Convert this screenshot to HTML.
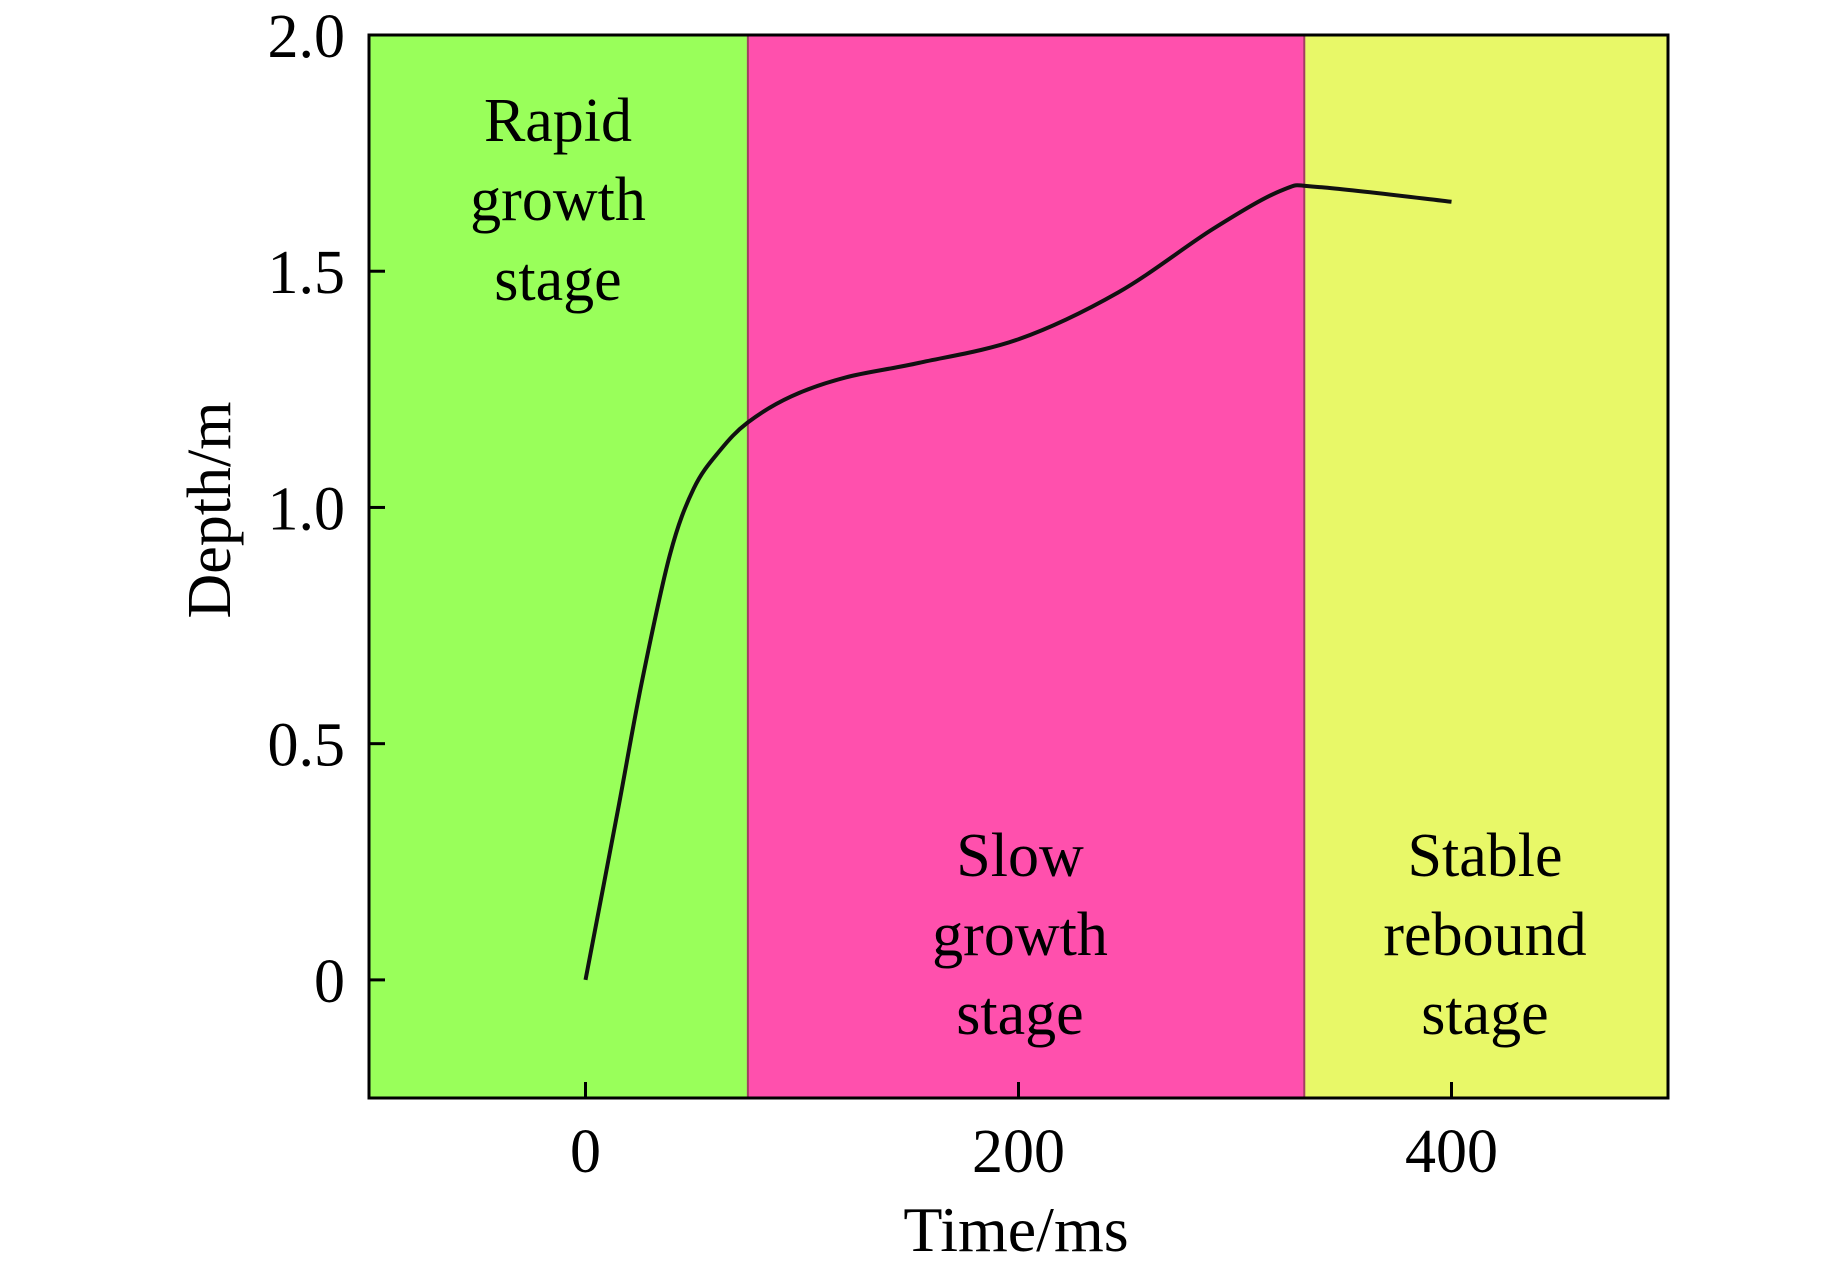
<!DOCTYPE html>
<html><head><meta charset="utf-8"><style>
html,body{margin:0;padding:0;background:#fff;}
svg text{font-family:"Liberation Serif",serif;fill:#000;}
</style></head><body>
<svg id="chart" width="1843" height="1270" viewBox="0 0 1843 1270" xmlns="http://www.w3.org/2000/svg">
<g id="regions"></g>
<g id="labels"></g>
<path id="curve" fill="none" stroke="#111" stroke-width="4"/>
<rect x="369" y="35" width="1299" height="1063" fill="none" stroke="#000" stroke-width="3"/>
<g id="axes"></g>
<text x="1016" y="1251" font-size="64" text-anchor="middle">Time/ms</text>
<text transform="translate(230,510) rotate(-90)" font-size="62" text-anchor="middle">Depth/m</text>
</svg>
<script>
const times=[0,15,26,39,50,62,75,95,120,154,200,246,290,322,339,400];
const depths=[0,0.36,0.63,0.9,1.04,1.12,1.18,1.235,1.275,1.306,1.356,1.455,1.59,1.672,1.678,1.647];
const xTicks=[0,200,400];
const yTicks=[0,0.5,1.0,1.5,2.0];
const yTickLabels=["0","0.5","1.0","1.5","2.0"];
const stageBounds=[-100,75,332,500];
const stageColors=["#99ff5a","#ff50ad","#e8f868"];
const stageNames=[["Rapid","growth","stage"],["Slow","growth","stage"],["Stable","rebound","stage"]];
const L=369,R=1668,T=35,B=1098;
const xs=t=>L+(t+100)/600*(R-L);
const ys=d=>B-(d+0.25)/2.25*(B-T);
const NS="http://www.w3.org/2000/svg";
const reg=document.getElementById('regions'),lab=document.getElementById('labels'),ax=document.getElementById('axes');
for(let i=0;i<3;i++){
 const r=document.createElementNS(NS,'rect');
 
 
 r.setAttribute('x',xs(stageBounds[i]));r.setAttribute('y',T);
 r.setAttribute('width',xs(stageBounds[i+1])-xs(stageBounds[i]));r.setAttribute('height',B-T);
 r.setAttribute('fill',stageColors[i]);reg.appendChild(r);
 if(i>0){const l=document.createElementNS(NS,'line');
 
 
 l.setAttribute('x1',xs(stageBounds[i]));l.setAttribute('x2',xs(stageBounds[i]));l.setAttribute('y1',T);l.setAttribute('y2',B);l.setAttribute('stroke','#a04060');l.setAttribute('stroke-width','2');reg.appendChild(l);}
}
const labelCx=[558,1020,1485],labelY=[141,220,300,876,955,1034];
[[0,0],[1,3],[2,3]].forEach(([i,o])=>{stageNames[i].forEach((w,k)=>{
 const t=document.createElementNS(NS,'text');
 
 
 t.setAttribute('x',labelCx[i]);t.setAttribute('y',labelY[o+k]);t.setAttribute('font-size','62');t.setAttribute('text-anchor','middle');t.textContent=w;lab.appendChild(t);});});
const P=times.map((t,i)=>[xs(t),ys(depths[i])]);
let d='M'+P[0][0]+','+P[0][1];
for(let i=0;i<P.length-1;i++){const p0=P[Math.max(0,i-1)],p1=P[i],p2=P[i+1],p3=P[Math.min(P.length-1,i+2)];
 d+=` C${p1[0]+(p2[0]-p0[0])/6},${p1[1]+(p2[1]-p0[1])/6} ${p2[0]-(p3[0]-p1[0])/6},${p2[1]-(p3[1]-p1[1])/6} ${p2[0]},${p2[1]}`;}
document.getElementById('curve').setAttribute('d',d);
xTicks.forEach(v=>{const l=document.createElementNS(NS,'line');
 
 
 l.setAttribute('x1',xs(v));l.setAttribute('x2',xs(v));l.setAttribute('y1',B);l.setAttribute('y2',B-16);l.setAttribute('stroke','#000');l.setAttribute('stroke-width','3');ax.appendChild(l);
 const t=document.createElementNS(NS,'text');
 
 
 t.setAttribute('x',xs(v));t.setAttribute('y',1172);t.setAttribute('font-size','62');t.setAttribute('text-anchor','middle');t.textContent=v;ax.appendChild(t);});
yTicks.forEach((v,i)=>{const l=document.createElementNS(NS,'line');
 
 
 l.setAttribute('x1',L);l.setAttribute('x2',L+16);l.setAttribute('y1',ys(v));l.setAttribute('y2',ys(v));l.setAttribute('stroke','#000');l.setAttribute('stroke-width','3');ax.appendChild(l);
 const t=document.createElementNS(NS,'text');
 
 
 t.setAttribute('x',345);t.setAttribute('y',ys(v)+22);t.setAttribute('font-size','62');t.setAttribute('text-anchor','end');t.textContent=yTickLabels[i];ax.appendChild(t);});
</script>
</body></html>
